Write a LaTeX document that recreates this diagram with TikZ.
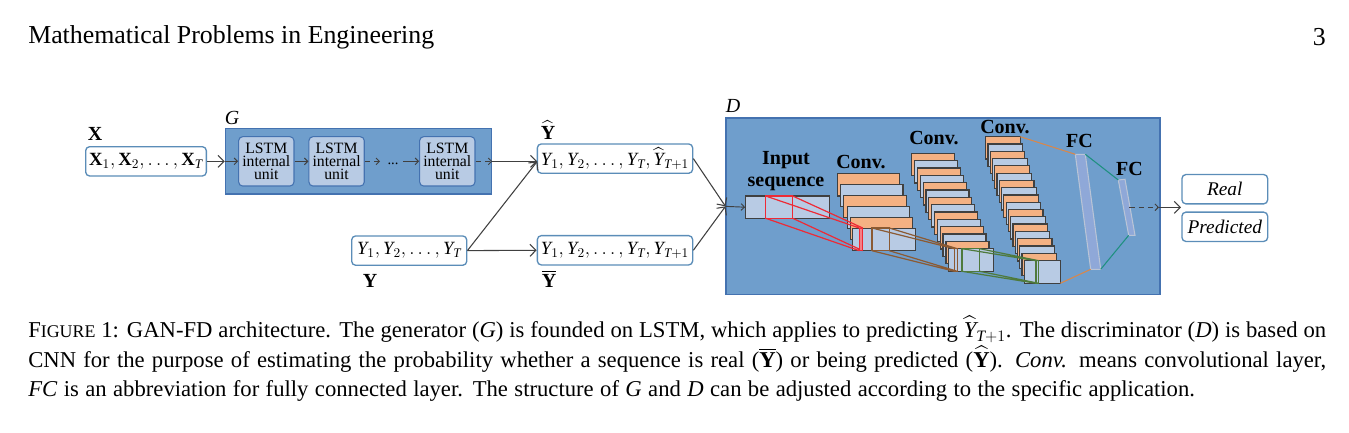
\documentclass[tikz,border=0pt]{standalone}
\usepackage{amsmath}
\usepackage{fontspec}
\setmainfont{Liberation Serif}
\usetikzlibrary{arrows.meta}
\definecolor{panelblue}{HTML}{6F9ECC}
\definecolor{panelline}{HTML}{4472B0}
\definecolor{cellblue}{HTML}{B8CBE4}
\definecolor{layerorange}{HTML}{F4B183}
\definecolor{layerline}{HTML}{404040}
\definecolor{seqline}{HTML}{5B8DB8}
\definecolor{windowred}{HTML}{EE2A35}
\definecolor{windowbrown}{HTML}{8B5A33}
\definecolor{windowgreen}{HTML}{4E7A3C}
\definecolor{linkorange}{HTML}{D8874B}
\definecolor{linkteal}{HTML}{1F9080}
\definecolor{fcfill}{HTML}{8FA8D8}
\definecolor{fcline}{HTML}{B9C4D6}
\tikzset{
  panel/.style={draw=panelline,fill=panelblue,line width=0.8pt,inner sep=0pt},
  lstmunit/.style={draw=panelline,fill=cellblue,rounded corners=3pt,line width=0.8pt,inner sep=0pt,
    minimum width=41.5pt,minimum height=37pt,align=center,font=\fontsize{11.8}{9.75}\selectfont},
  seqbox/.style={draw=seqline,fill=white,rounded corners=3pt,line width=1pt,inner sep=0pt,
    minimum height=22pt,font=\fontsize{14}{16}\selectfont},
  cellbox/.style={draw=layerline,fill=cellblue,line width=0.9pt,inner sep=0pt,minimum height=16.7pt},
  boldtag/.style={font=\bfseries\fontsize{15}{16.5}\selectfont,align=center,inner sep=0pt},
  symtag/.style={font=\fontsize{15}{16}\selectfont,inner sep=0pt},
  bigarrow/.style={draw=layerline,line width=0.8pt,-{Straight Barb[length=4.5pt,width=9pt]}},
  smallarrow/.style={draw=layerline,line width=0.7pt,-{Straight Barb[length=2.5pt,width=5pt]}},
  dashline/.style={dash pattern=on 4pt off 3pt},
}
\newcommand{\layerstack}[7]{% x, y, width, height, dx, dy, count
  \foreach \i in {1,...,#7}{
    \pgfmathtruncatemacro{\side}{mod(\i,2)}
    \pgfmathsetmacro{\lx}{#1+(\i-1)*#5}
    \pgfmathsetmacro{\ly}{#2+(\i-1)*#6}
    \ifnum\side=1 \def\layercol{layerorange}\else \def\layercol{cellblue}\fi
    \draw[draw=layerline,fill=\layercol,line width=0.9pt] (\lx,\ly) rectangle ++(#3,#4);
  }
}
\newcommand{\capline}[2][973.5pt]{\makebox[#1][s]{#2}}
\begin{document}
\begin{tikzpicture}[x=0.75pt,y=-0.75pt]
  \useasboundingbox (0,0) rectangle (1349,432);
  %PAGE HEAD
  \node[anchor=west,inner sep=0pt,font=\fontsize{19.4}{21}\selectfont] (pagehead) at (28,37) {Mathematical Problems in Engineering};
  \node[anchor=east,inner sep=0pt,font=\fontsize{19.4}{21}\selectfont] (pagenum) at (1326,37) {3};
  %G
  \node[panel,minimum width=199.8pt,minimum height=49pt] (gpanel) at (358.5,161.35) {};
  \node[symtag,font=\itshape\fontsize{15}{16}\selectfont] (glabel) at (232,118) {G};
  \node[lstmunit] (unita) at (266.3,161.35) {LSTM\\internal\\unit};
  \node[lstmunit] (unitb) at (336.6,161.35) {LSTM\\internal\\unit};
  \node[lstmunit] (unitc) at (447.3,161.35) {LSTM\\internal\\unit};
  \node[font=\fontsize{11}{12}\selectfont,inner sep=0pt] (dots) at (393,164) {...};
  \coordinate (dotsin) at (380,161.35);
  \coordinate (dotsout) at (403,161.35);
  %X,Y
  \node[boldtag] (xlabel) at (95,134) {X};
  \node[seqbox,minimum width=90.5pt] (xseq) at (146,161.35) {$\mathbf{X}_{1},\mathbf{X}_{2},\ldots,\mathbf{X}_{\mathit{T}}$};
  \node[seqbox,minimum width=86.3pt] (yseq) at (409.2,250.6) {$\mathit{Y}_{1},\mathit{Y}_{2},\ldots,\mathit{Y}_{\mathit{T}}$};
  \node[boldtag] (ylabel) at (370,280.5) {Y};
  %YHAT,YBAR
  \node[symtag] (yhatlabel) at (548,130) {$\widehat{\mathbf{Y}}$};
  \node[seqbox,minimum width=116.5pt] (yhat) at (615,158.6) {$\mathit{Y}_{1},\mathit{Y}_{2},\ldots,\mathit{Y}_{\mathit{T}},\widehat{\mathit{Y}}_{\mathit{T}+1}$};
  \node[seqbox,minimum width=116.5pt] (ybar) at (615,250.3) {$\mathit{Y}_{1},\mathit{Y}_{2},\ldots,\mathit{Y}_{\mathit{T}},\mathit{Y}_{\mathit{T}+1}$};
  \node[symtag] (ybarlabel) at (549,279) {$\overline{\mathbf{Y}}$};
  \coordinate (yhatin) at (537.3,161.35);
  %ARROWS G SIDE
  \draw[bigarrow] (xseq.east) -- (gpanel.west);
  \draw[smallarrow] (gpanel.west) -- (unita.west);
  \draw[smallarrow] (unita.east) -- (unitb.west);
  \draw[smallarrow,dashline] (unitb.east) -- (dotsin);
  \draw[smallarrow] (dotsout) -- (unitc.west);
  \draw[smallarrow,dashline] (unitc.east) -- (gpanel.east);
  \draw[bigarrow] (gpanel.east) -- (yhatin);
  \draw[bigarrow] (yseq.east) -- (yhatin);
  \draw[bigarrow] (yseq.east) -- (ybar.west);
  %D
  \node[panel,minimum width=325.5pt,minimum height=132.5pt] (dpanel) at (943,206.35) {};
  \node[symtag,font=\itshape\fontsize{15}{16}\selectfont] (dlabel) at (733,106) {D};
  \draw[bigarrow] (yhat.east) -- (dpanel.west);
  \draw[bigarrow] (ybar.east) -- (dpanel.west);
  %INPUT
  \node[cellbox,minimum width=62.7pt] (inbox) at (787.5,207.2) {};
  \draw[smallarrow] (dpanel.west) -- (inbox.west);
  \node[boldtag] (inlabel) at (786,171) {Input\\sequence};
  %STACKS
  \layerstack{837.3}{173.7}{62.4}{22.3}{3.27}{10.87}{5}
  \node[cellbox,minimum width=46.8pt] (boxa) at (884,239.3) {};
  \layerstack{911.7}{153.3}{43}{22.3}{2.85}{7.33}{13}
  \node[cellbox,minimum width=33.5pt] (boxb) at (971,260) {};
  \layerstack{985.7}{136.7}{34.6}{22.3}{2.27}{7.28}{17}
  \node[cellbox,minimum width=27pt] (boxc) at (1042.3,272) {};
  \node[boldtag] (conva) at (861,162) {Conv.};
  \node[boldtag] (convb) at (934,138) {Conv.};
  \node[boldtag] (convc) at (1005,127) {Conv.};
  %WINDOWS
  \draw[windowred,line width=1pt] (765.7,196) rectangle (792.7,218.3);
  \draw[windowred,line width=0.9pt] (765.7,196) -- (859.3,228) (792.7,196) -- (862.7,228)
    (765.7,218.3) -- (859.3,250.7) (792.7,218.3) -- (862.7,250.7);
  \draw[windowred,fill=windowred!60,line width=0.7pt] (859.3,228) rectangle (862.7,250.7);
  \draw[windowbrown,line width=0.9pt] (872,228) rectangle (889.3,250.7);
  \draw[windowbrown,line width=0.9pt] (872,228) -- (954.3,248.7) (889.3,228) -- (957.3,248.7)
    (872,250.7) -- (954.3,271.3) (889.3,250.7) -- (957.3,271.3);
  \draw[windowbrown,line width=0.9pt] (954.3,248.7) rectangle (957.3,271.3);
  \draw[windowgreen,line width=0.9pt] (962,248.7) rectangle (979.7,271.3);
  \draw[windowgreen,line width=0.9pt] (962,248.7) -- (1036,260.7) (979.7,248.7) -- (1038.7,260.7)
    (962,271.3) -- (1036,283.3) (979.7,271.3) -- (1038.7,283.3);
  \draw[windowgreen,line width=0.9pt] (1036,260.7) rectangle (1038.7,283.3);
  %FC
  \draw[fcline,fill=fcfill,line width=0.8pt] (1075.3,154.3) -- (1085.3,154.3) -- (1100.7,269.3) -- (1090.7,269.3) -- cycle;
  \draw[fcline,fill=fcfill,line width=0.8pt] (1118.3,180) -- (1125,179.3) -- (1135,235.3) -- (1128.7,235.3) -- cycle;
  \draw[linkorange,line width=0.8pt] (1020.3,136.7) -- (1075.3,154.3);
  \draw[linkorange,line width=0.8pt] (1060.3,283.3) -- (1090.7,269.3);
  \draw[linkteal,line width=0.8pt] (1085.3,154.3) -- (1118.3,180);
  \draw[linkteal,line width=0.8pt] (1100.7,269.3) -- (1128.7,235.3);
  \node[boldtag] (fca) at (1079.5,141) {FC};
  \node[boldtag] (fcb) at (1129.5,168.5) {FC};
  %OUTPUT
  \node[seqbox,minimum width=64.3pt,font=\itshape\fontsize{14.5}{16}\selectfont] (real) at (1224.8,189.2) {Real};
  \node[seqbox,minimum width=64.3pt,font=\itshape\fontsize{14.5}{16}\selectfont] (predicted) at (1224.8,226.8) {Predicted};
  \coordinate (fcout) at (1129.3,207.3);
  \coordinate (dashend) at (1159,207.3);
  \coordinate (outend) at (1181,207.3);
  \draw[smallarrow,dashline] (fcout) -- (dashend);
  \draw[bigarrow] (dashend) -- (outend);
  %CAPTION
  \node[anchor=north west,inner sep=0pt,align=left,font=\fontsize{17}{22.1}\selectfont] (caption) at (28,316) {%
    \capline{F{\fontsize{13.4}{22.1}\selectfont IGURE} 1: GAN-FD architecture. The generator (\textit{G}) is founded on LSTM, which applies to predicting $\widehat{\mathit{Y}}_{\mathit{T}+1}$. The discriminator (\textit{D}) is based on}\\
    \capline{CNN for the purpose of estimating the probability whether a sequence is real ($\overline{\mathbf{Y}}$) or being predicted ($\widehat{\mathbf{Y}}$). \textit{Conv.} means convolutional layer,}\\
    \capline[875pt]{\textit{FC} is an abbreviation for fully connected layer. The structure of \textit{G} and \textit{D} can be adjusted according to the specific application.}};
\end{tikzpicture}
\end{document}
